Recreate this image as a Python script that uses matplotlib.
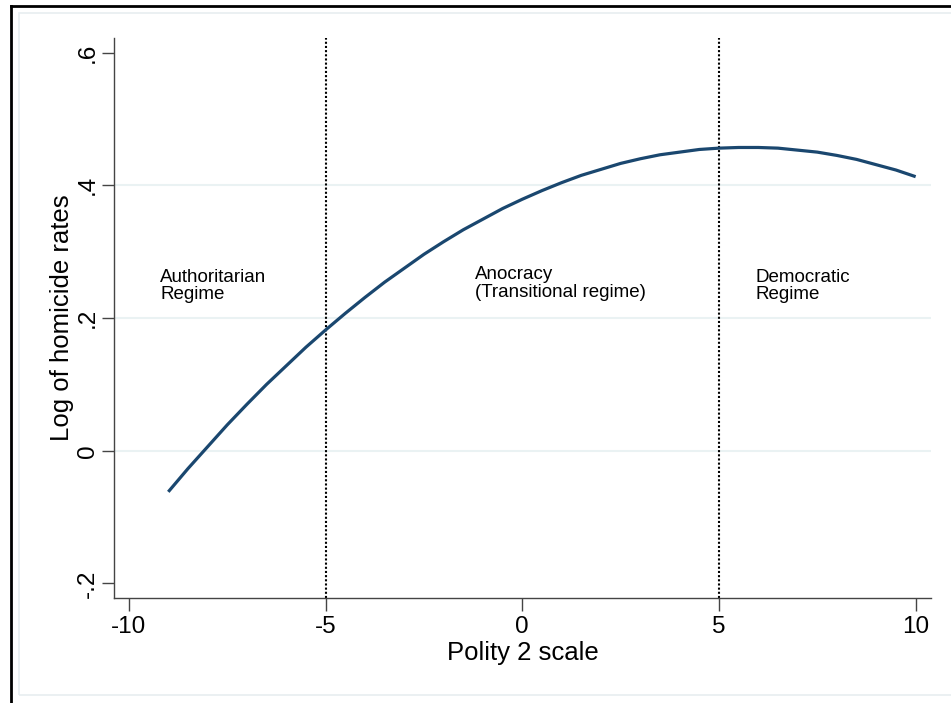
import matplotlib.pyplot as plt
from matplotlib.lines import Line2D
from matplotlib.patches import Rectangle

plt.rcParams['font.family'] = ['Liberation Sans', 'DejaVu Sans']

# fitted curve (half-unit steps)
polity = [-9, -8.5, -8, -7.5, -7, -6.5, -6, -5.5, -5, -4.5, -4, -3.5, -3, -2.5, -2, -1.5,
          -1, -0.5, 0, 0.5, 1, 1.5, 2, 2.5, 3, 3.5, 4, 4.5, 5, 5.5, 6, 6.5, 7, 7.5,
          8, 8.5, 9, 9.5, 10]
log_homicide = [-0.062, -0.027, 0.006, 0.039, 0.070, 0.100, 0.128, 0.156, 0.182, 0.207,
                0.231, 0.254, 0.275, 0.296, 0.315, 0.333, 0.349, 0.365, 0.379, 0.392,
                0.404, 0.415, 0.424, 0.433, 0.440, 0.446, 0.450, 0.454, 0.456, 0.457,
                0.457, 0.456, 0.453, 0.450, 0.445, 0.439, 0.431, 0.423, 0.413]

x_ticks = [-10, -5, 0, 5, 10]
y_ticks = [-0.2, 0, 0.2, 0.4, 0.6]
y_tick_labels = ['-.2', '0', '.2', '.4', '.6']
grid_levels = [0, 0.2, 0.4]
cutoffs = [-5, 5]
regimes = [(-9.21, 0.274, 'Authoritarian\nRegime'),
           (-1.2, 0.278, 'Anocracy\n(Transitional regime)'),
           (5.92, 0.274, 'Democratic\nRegime')]

fig = plt.figure(figsize=(9.51, 7.03), dpi=100)

# stata-ish frame bits (image is a crop of a bigger graph)
fig.add_artist(Rectangle((19 / 951, 1 - 695 / 703), 1.0, (695 - 13) / 703,
                         transform=fig.transFigure, fill=False,
                         edgecolor='#e8eef0', linewidth=1.2))
fig.add_artist(Line2D([11 / 951, 1.0], [1 - 6 / 703, 1 - 6 / 703],
                      transform=fig.transFigure, color='black', linewidth=2))
fig.add_artist(Line2D([11 / 951, 11 / 951], [0, 1 - 6 / 703],
                      transform=fig.transFigure, color='black', linewidth=2))

ax = fig.add_axes([114 / 951, 1 - 598 / 703, (931 - 114) / 951, (598 - 38) / 703])

for g in grid_levels:
    ax.axhline(g, color='#eaf2f3', linewidth=1.5, zorder=0)

for c in cutoffs:
    ax.axvline(c, color='black', linestyle=(0, (1, 1)), linewidth=1.5, zorder=2)

ax.plot(polity, log_homicide, color='#1a476f', linewidth=2.3, zorder=3,
        solid_capstyle='butt')

for x, y, txt in regimes:
    ax.text(x, y, txt, fontsize=13.5, ha='left', va='top', linespacing=1.02)

ax.set_xlim(-10.38, 10.39)
ax.set_ylim(-0.222, 0.622)
ax.set_xticks(x_ticks)
ax.set_xticklabels([str(t) for t in x_ticks])
ax.set_yticks(y_ticks)
ax.set_yticklabels(y_tick_labels, rotation=90, va='center')

ax.tick_params(axis='both', labelsize=17.5, length=9, width=1, color='#444444')
ax.tick_params(axis='y', pad=2)
ax.tick_params(axis='x', pad=4)
ax.set_xlabel('Polity 2 scale', fontsize=18.5, labelpad=2)
ax.set_ylabel('Log of homicide rates', fontsize=18.5, labelpad=2)

for side in ['top', 'right']:
    ax.spines[side].set_visible(False)
for side in ['left', 'bottom']:
    ax.spines[side].set_color('#444444')
    ax.spines[side].set_linewidth(1)

fig.savefig('out.png', dpi=100)
